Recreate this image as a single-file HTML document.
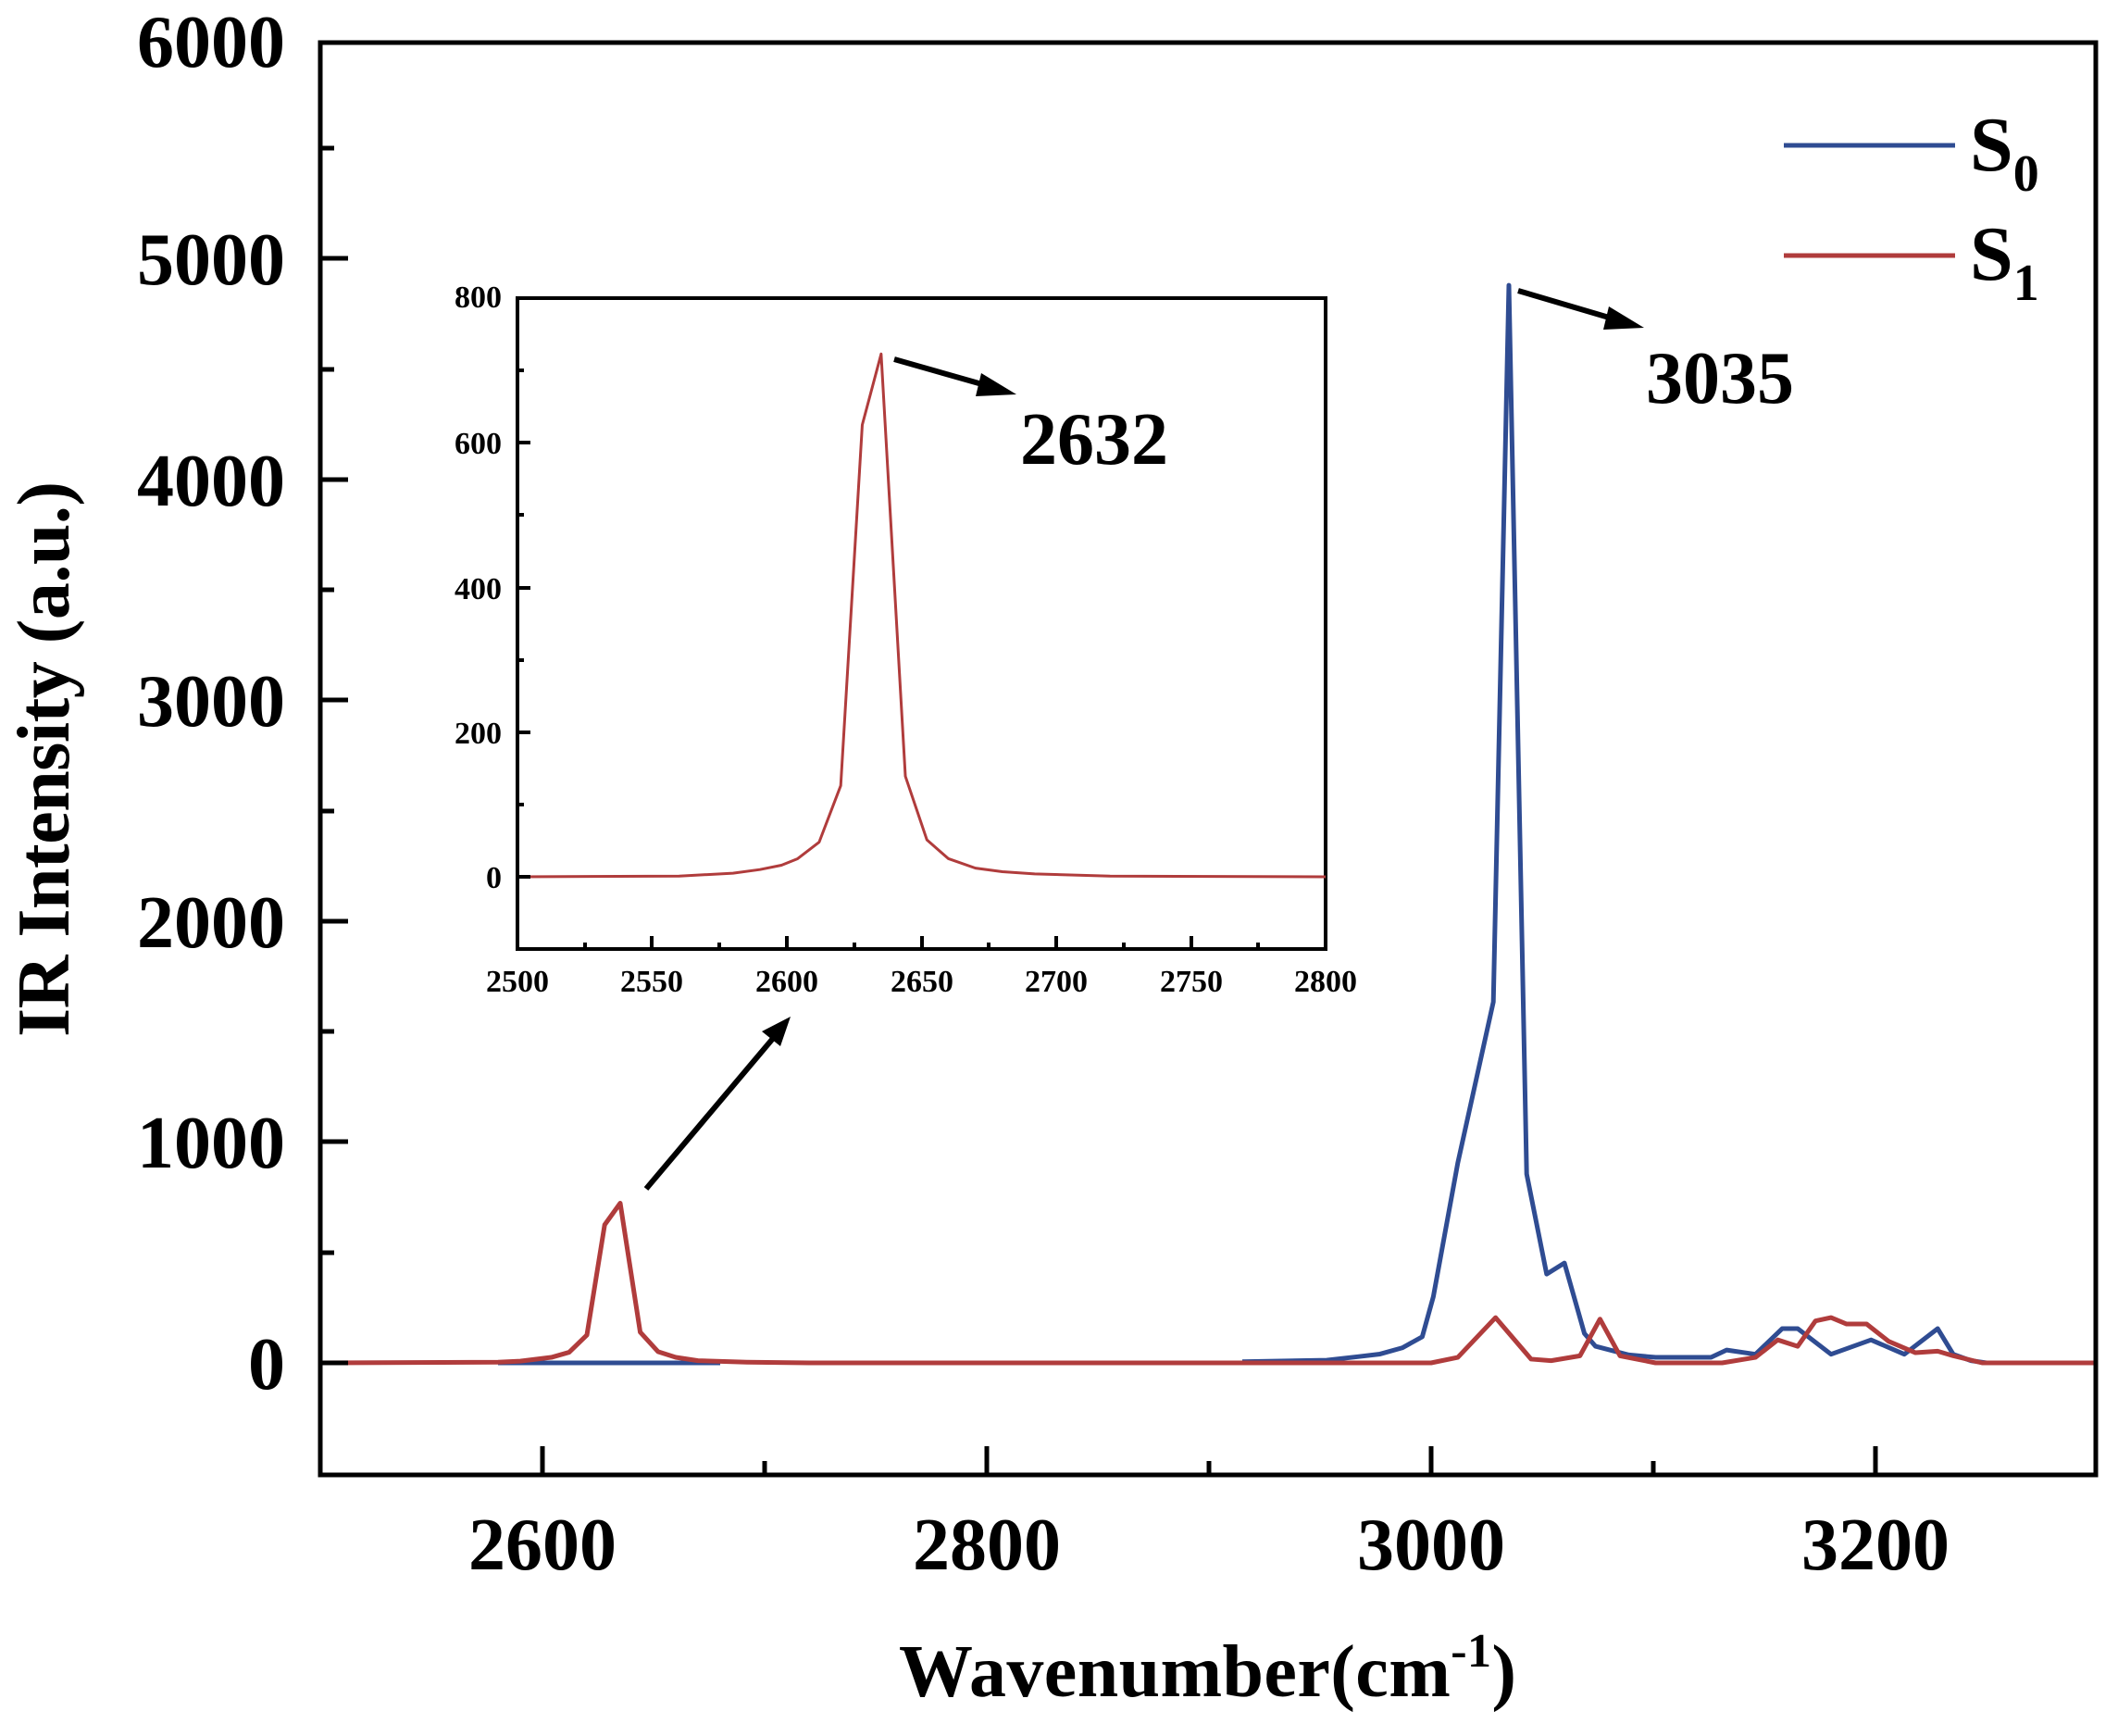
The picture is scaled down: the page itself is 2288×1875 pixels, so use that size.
<!DOCTYPE html>
<html><head><meta charset="utf-8"><style>
html,body{margin:0;padding:0;background:#fff}
svg{display:block}
text{font-family:"Liberation Serif",serif;font-weight:bold;fill:#000}
</style></head><body>
<svg width="2288" height="1875" viewBox="0 0 2288 1875" xmlns="http://www.w3.org/2000/svg">
<!-- main curves -->
<g transform="translate(-5654,1472) scale(2.4,-0.2386)" fill="none" stroke-linejoin="round">
<polyline vector-effect="non-scaling-stroke" stroke="#2f4c92" stroke-width="5" points="2580,0 2680,0"/>
<polyline vector-effect="non-scaling-stroke" stroke="#2f4c92" stroke-width="5" points="2915,5 2953,12 2967,28 2977,40 2987,68 2996,118 3001,300 3012,905 3028,1634 3035,4878 3043,855 3052,402 3060,452 3069,133 3074,75 3089,36 3101,25 3126,25 3133,58 3146,39 3158,155 3165,155 3180,39 3198,104 3213,39 3228,155 3235,39 3243,10 3250,0"/>
<polyline vector-effect="non-scaling-stroke" stroke="#b03c3c" stroke-width="5" points="2500,0 2580,3 2590,8 2604,25 2612,48 2620,126 2628,625 2635,723 2644,139 2652,51 2660,25 2670,10 2692,3 2720,0 3000,0 3012,25 3029,205 3045,17 3054,10 3067,32 3076,198 3085,32 3101,0 3131,0 3146,25 3156,104 3165,75 3173,190 3180,205 3187,176 3196,176 3206,97 3218,46 3228,53 3235,32 3248,0 3300,0"/>
</g>
<!-- main axes -->
<rect x="346" y="46" width="1918" height="1547" fill="none" stroke="#000" stroke-width="5"/>
<g stroke="#000" stroke-width="5">
<line x1="346" y1="1472" x2="376" y2="1472"/><line x1="346" y1="1233" x2="376" y2="1233"/><line x1="346" y1="995" x2="376" y2="995"/><line x1="346" y1="756" x2="376" y2="756"/><line x1="346" y1="518" x2="376" y2="518"/><line x1="346" y1="279" x2="376" y2="279"/>
<line x1="346" y1="1353" x2="361" y2="1353"/><line x1="346" y1="1114" x2="361" y2="1114"/><line x1="346" y1="876" x2="361" y2="876"/><line x1="346" y1="637" x2="361" y2="637"/><line x1="346" y1="399" x2="361" y2="399"/><line x1="346" y1="160" x2="361" y2="160"/>
<line x1="586" y1="1593" x2="586" y2="1562"/><line x1="1066" y1="1593" x2="1066" y2="1562"/><line x1="1546" y1="1593" x2="1546" y2="1562"/><line x1="2026" y1="1593" x2="2026" y2="1562"/>
<line x1="826" y1="1593" x2="826" y2="1578"/><line x1="1306" y1="1593" x2="1306" y2="1578"/><line x1="1786" y1="1593" x2="1786" y2="1578"/>
</g>
<g font-size="80" text-anchor="end">
<text x="308" y="1500">0</text><text x="308" y="1261">1000</text><text x="308" y="1023">2000</text><text x="308" y="784">3000</text><text x="308" y="546">4000</text><text x="308" y="307">5000</text><text x="308" y="72">6000</text>
</g>
<g font-size="80" text-anchor="middle">
<text x="586" y="1695">2600</text><text x="1066" y="1695">2800</text><text x="1546" y="1695">3000</text><text x="2026" y="1695">3200</text>
</g>
<text x="971" y="1832" font-size="80" textLength="667">Wavenumber(cm<tspan font-size="52" dy="-32">-1</tspan><tspan dy="32">)</tspan></text>
<text transform="translate(74,820) rotate(-90)" font-size="80" text-anchor="middle" textLength="600">IR Intensity (a.u.)</text>
<!-- legend -->
<line x1="1927" y1="157" x2="2112" y2="157" stroke="#2f4c92" stroke-width="5"/>
<line x1="1927" y1="276" x2="2112" y2="276" stroke="#b03c3c" stroke-width="5"/>
<text x="2128" y="184" font-size="84">S<tspan font-size="56" dy="22">0</tspan></text>
<text x="2128" y="302" font-size="84">S<tspan font-size="56" dy="22">1</tspan></text>
<!-- inset -->
<rect x="559" y="322" width="873" height="703" fill="#fff" stroke="#000" stroke-width="4"/>
<g transform="translate(-6716,947) scale(2.91,-0.781)" fill="none">
<polyline vector-effect="non-scaling-stroke" stroke="#b03c3c" stroke-width="3" stroke-linejoin="round" points="2500,0 2560,1 2580,5 2590,10 2598,16 2604,25 2612,48 2620,126 2628,625 2635,723 2644,139 2652,51 2660,25 2670,12 2680,7 2692,4 2720,1 2800,0"/>
</g>
<g stroke="#000" stroke-width="4">
<line x1="559" y1="947" x2="573" y2="947"/><line x1="559" y1="791" x2="573" y2="791"/><line x1="559" y1="635" x2="573" y2="635"/><line x1="559" y1="478" x2="573" y2="478"/>
<line x1="559" y1="869" x2="566" y2="869"/><line x1="559" y1="713" x2="566" y2="713"/><line x1="559" y1="556" x2="566" y2="556"/><line x1="559" y1="400" x2="566" y2="400"/>
<line x1="632" y1="1025" x2="632" y2="1018"/><line x1="704" y1="1025" x2="704" y2="1011"/><line x1="777" y1="1025" x2="777" y2="1018"/><line x1="850" y1="1025" x2="850" y2="1011"/><line x1="923" y1="1025" x2="923" y2="1018"/><line x1="996" y1="1025" x2="996" y2="1011"/><line x1="1068" y1="1025" x2="1068" y2="1018"/><line x1="1141" y1="1025" x2="1141" y2="1011"/><line x1="1214" y1="1025" x2="1214" y2="1018"/><line x1="1287" y1="1025" x2="1287" y2="1011"/><line x1="1359" y1="1025" x2="1359" y2="1018"/>
</g>
<g font-size="34" text-anchor="end">
<text x="542" y="959">0</text><text x="542" y="803">200</text><text x="542" y="647">400</text><text x="542" y="490">600</text><text x="542" y="332">800</text>
</g>
<g font-size="34" text-anchor="middle">
<text x="559" y="1071">2500</text><text x="704" y="1071">2550</text><text x="850" y="1071">2600</text><text x="996" y="1071">2650</text><text x="1141" y="1071">2700</text><text x="1287" y="1071">2750</text><text x="1432" y="1071">2800</text>
</g>
<!-- annotations -->
<text x="1778" y="435" font-size="80">3035</text>
<text x="1102" y="501" font-size="80">2632</text>
<g stroke="#000" stroke-width="6" fill="#000">
<line x1="1640" y1="314" x2="1745" y2="345"/><polygon points="1776,354 1738,331 1732,356" stroke="none"/>
<line x1="966" y1="388" x2="1068" y2="417"/><polygon points="1098,426 1060,403 1054,428" stroke="none"/>
<line x1="698" y1="1284" x2="838" y2="1118"/><polygon points="854,1098 823,1114 843,1130" stroke="none"/>
</g>
</svg>
</body></html>
